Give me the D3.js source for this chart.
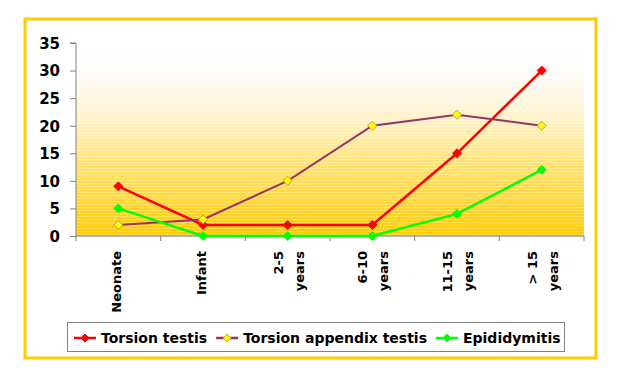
<!DOCTYPE html>
<html><head><meta charset="utf-8">
<script src="https://cdn.jsdelivr.net/npm/d3@7"></script>
<style>
html,body{margin:0;padding:0;background:#fff;}
svg{display:block;}
text{font-family:"Comic Sans MS","DejaVu Sans",sans-serif;font-weight:bold;fill:#000;}
</style></head>
<body>
<script>
const categories = [["Neonate"],["Infant"],["2-5","years"],["6-10","years"],["11-15","years"],["> 15","years"]];
const torsionTestis = [9, 2, 2, 2, 15, 30];
const torsionAppendix = [2, 3, 10, 20, 22, 20];
const epididymitis = [5, 0, 0, 0, 4, 12];
const yTicks = [0, 5, 10, 15, 20, 25, 30, 35];
const seriesNames = ["Torsion testis", "Torsion appendix testis", "Epididymitis"];

const W = 621, H = 373;
const svg = d3.select("body").append("svg").attr("width", W).attr("height", H);

// outer frame
svg.append("rect").attr("x", 25).attr("y", 19).attr("width", 571).attr("height", 339)
  .attr("fill", "#fff").attr("stroke", "#FFCC00").attr("stroke-width", 3);

const plot = {left: 76, right: 584, top: 43, bottom: 236};
const x = d3.scaleBand().domain(d3.range(categories.length)).range([plot.left, plot.right]);
const y = d3.scaleLinear().domain([0, 35]).range([plot.bottom, plot.top]);

const defs = svg.append("defs");
const grad = defs.append("linearGradient").attr("id", "bg").attr("x1", 0).attr("y1", 0).attr("x2", 0).attr("y2", 1);
[[0, "#ffffff"], [0.15, "#fffdf9"], [0.3, "#fff6e0"], [0.45, "#ffefb4"], [0.63, "#ffe272"], [0.82, "#ffd73a"], [1, "#ffcc00"]]
  .forEach(([o, c]) => grad.append("stop").attr("offset", o).attr("stop-color", c));
const pat = defs.append("pattern").attr("id", "stripes").attr("patternUnits", "userSpaceOnUse")
  .attr("width", 8).attr("height", 3);
pat.append("rect").attr("x", 0).attr("y", 0).attr("width", 8).attr("height", 1).attr("fill", "#fff").attr("opacity", 0.28);

svg.append("rect").attr("x", plot.left).attr("y", plot.top)
  .attr("width", plot.right - plot.left).attr("height", plot.bottom - plot.top)
  .attr("fill", "url(#bg)");
svg.append("rect").attr("x", plot.left).attr("y", plot.top)
  .attr("width", plot.right - plot.left).attr("height", plot.bottom - plot.top)
  .attr("fill", "url(#stripes)");

// y axis
const yAxis = svg.append("g").attr("transform", `translate(${plot.left},0)`)
  .call(d3.axisLeft(y).tickValues(yTicks).tickSize(6).tickPadding(10));
yAxis.select(".domain").attr("stroke", "#808080").attr("d", `M-6,${y(35)}H0V${y(0)}`);
yAxis.selectAll(".tick line").attr("stroke", "#808080");
yAxis.selectAll("text").attr("font-size", 15).attr("dy", "0.36em")
  .style("font-family", '"Comic Sans MS","DejaVu Sans",sans-serif').style("font-weight", "bold");

// x axis with ticks at category boundaries
const xg = svg.append("g").attr("transform", `translate(0,${plot.bottom})`);
xg.append("line").attr("x1", plot.left).attr("x2", plot.right).attr("stroke", "#808080");
const bounds = d3.range(categories.length + 1).map(i => i < categories.length ? x(i) : x(categories.length - 1) + x.bandwidth());
xg.selectAll("line.tk").data(bounds).join("line").attr("class", "tk")
  .attr("x1", d => d).attr("x2", d => d).attr("y1", 0).attr("y2", 5).attr("stroke", "#808080");

// x labels rotated
categories.forEach((lines, i) => {
  const cx = x(i) + x.bandwidth() / 2;
  const offs = lines.length === 1 ? [3] : [-5, 16];
  lines.forEach((t, j) => {
    svg.append("text").attr("transform", `translate(${cx + offs[j]},${plot.bottom + 15}) rotate(-90)`)
      .attr("text-anchor", "end").attr("font-size", 13).text(t);
  });
});

const series = [
  {name: seriesNames[0], data: torsionTestis, line: "#FF0000", fill: "#FF0000", stroke: "#FF0000", w: 2.5},
  {name: seriesNames[1], data: torsionAppendix, line: "#993366", fill: "#FFFF00", stroke: "#CC9933", w: 2},
  {name: seriesNames[2], data: epididymitis, line: "#00FF00", fill: "#00FF00", stroke: "#00FF00", w: 2.5}
];
const cxOf = i => x(i) + x.bandwidth() / 2;
const line = d3.line().x((d, i) => cxOf(i)).y(d => y(d));
const diamond = (s) => `M0,${-s}L${s},0L0,${s}L${-s},0Z`;

series.forEach(s => {
  svg.append("path").attr("d", line(s.data)).attr("fill", "none").attr("stroke", s.line).attr("stroke-width", s.w);
});
series.forEach(s => {
  svg.selectAll(null).data(s.data).join("path")
    .attr("transform", (d, i) => `translate(${cxOf(i)},${y(d)})`)
    .attr("d", diamond(4.5)).attr("fill", s.fill).attr("stroke", s.stroke).attr("stroke-width", 1);
});

// legend
const lg = svg.append("g");
lg.append("rect").attr("x", 67.5).attr("y", 322.5).attr("width", 497).attr("height", 29)
  .attr("fill", "#fff").attr("stroke", "#808080").attr("stroke-width", 1);
let lx = 74;
series.forEach(s => {
  lg.append("line").attr("x1", lx).attr("x2", lx + 22).attr("y1", 338).attr("y2", 338).attr("stroke", s.line).attr("stroke-width", 2.5);
  lg.append("path").attr("transform", `translate(${lx + 11},338)`).attr("d", diamond(4)).attr("fill", s.fill).attr("stroke", s.stroke);
  const t = lg.append("text").attr("x", lx + 27).attr("y", 343).attr("font-size", 14).text(s.name);
  lx += 27 + t.node().getComputedTextLength() + 9;
});
</script>
</body></html>
